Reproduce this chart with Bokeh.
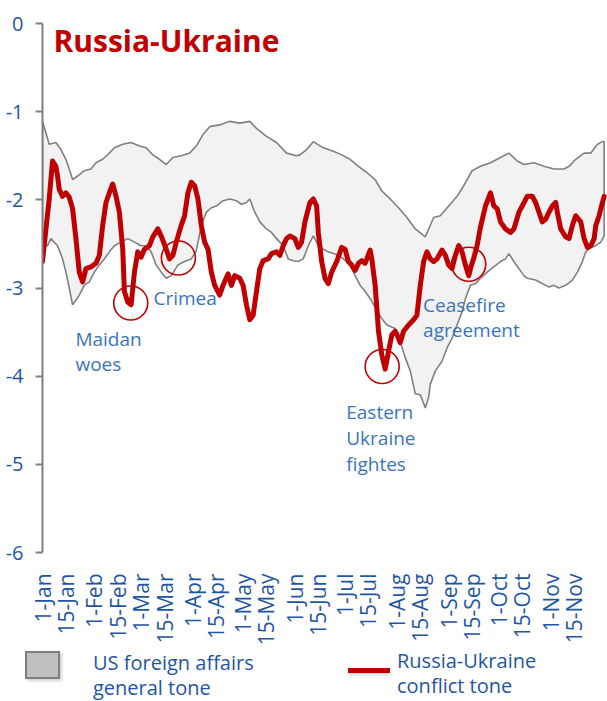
import math
from bokeh.plotting import figure
from bokeh.layouts import column
from bokeh.models import Range1d, FixedTicker, Label, Div
from bokeh.core.properties import value
from bokeh.embed import file_html
from bokeh.resources import INLINE

# ---- data (day of year 2014, 0 = 1 Jan) ----
tick_days = [0, 14, 31, 45, 59, 73, 90, 104, 120, 134, 151, 165, 181, 195,
             212, 226, 243, 257, 273, 287, 304, 318]
tick_labels = ["1-Jan", "15-Jan", "1-Feb", "15-Feb", "1-Mar", "15-Mar",
               "1-Apr", "15-Apr", "1-May", "15-May", "1-Jun", "15-Jun",
               "1-Jul", "15-Jul", "1-Aug", "15-Aug", "1-Sep", "15-Sep",
               "1-Oct", "15-Oct", "1-Nov", "15-Nov"]
y_ticks = [0, -1, -2, -3, -4, -5, -6]
y_tick_labels = ["0", "-1", "-2", "-3", "-4", "-5", "-6"]

red_day = [0, 1, 4, 6, 8, 9, 10, 12, 14, 16, 18, 20, 22, 24, 26, 29, 32, 34,
           36, 38, 40, 42, 44, 46, 48, 49, 51, 53, 55, 57, 59, 61, 64, 66, 69,
           71, 74, 76, 78, 80, 83, 85, 87, 89, 91, 93, 95, 97, 99, 101, 103,
           106, 108, 111, 113, 115, 118, 120, 122, 124, 126, 128, 130, 132,
           135, 137, 140, 142, 144, 146, 148, 151, 153, 155, 157, 160, 162,
           164, 165, 167, 169, 171, 173, 176, 179, 181, 183, 185, 187, 189,
           191, 193, 196, 197, 199, 201, 203, 205, 207, 209, 211, 213, 214,
           216, 219, 222, 224, 226, 228, 230, 232, 234, 236, 239, 241, 243,
           245, 247, 249, 251, 253, 255, 256, 258, 260, 262, 265, 268, 270,
           272, 274, 277, 280, 282, 285, 287, 290, 293, 295, 297, 299, 301,
           303, 305, 307, 308, 310, 313, 315, 317, 319, 322, 324, 326, 328,
           330, 331, 333, 334, 336]
red_val = [-2.70, -2.52, -1.99, -1.56, -1.62, -1.73, -1.88, -1.96, -1.92,
           -1.97, -2.10, -2.44, -2.82, -2.93, -2.78, -2.76, -2.72, -2.63,
           -2.29, -2.03, -1.92, -1.82, -1.96, -2.14, -2.56, -3.04, -3.16,
           -3.19, -2.82, -2.59, -2.65, -2.56, -2.52, -2.42, -2.33, -2.41,
           -2.56, -2.67, -2.63, -2.48, -2.29, -2.18, -1.92, -1.80, -1.84,
           -1.99, -2.29, -2.48, -2.56, -2.82, -2.97, -3.08, -2.97, -2.84,
           -2.97, -2.86, -2.89, -2.97, -3.19, -3.36, -3.31, -3.04, -2.78,
           -2.69, -2.67, -2.61, -2.59, -2.63, -2.52, -2.44, -2.41, -2.44,
           -2.54, -2.48, -2.25, -2.03, -1.99, -2.07, -2.37, -2.70, -2.89,
           -2.95, -2.82, -2.70, -2.54, -2.56, -2.70, -2.74, -2.80, -2.72,
           -2.69, -2.72, -2.57, -2.67, -2.97, -3.49, -3.76, -3.92, -3.72,
           -3.53, -3.49, -3.57, -3.62, -3.49, -3.42, -3.36, -3.31, -2.97,
           -2.70, -2.59, -2.67, -2.70, -2.67, -2.57, -2.63, -2.74, -2.78,
           -2.63, -2.52, -2.59, -2.74, -2.86, -2.78, -2.66, -2.52, -2.31,
           -2.07, -1.92, -2.07, -2.10, -2.25, -2.33, -2.37, -2.33, -2.14,
           -2.07, -1.96, -1.96, -2.03, -2.14, -2.25, -2.22, -2.14, -2.07,
           -2.03, -2.14, -2.33, -2.42, -2.44, -2.29, -2.18, -2.25, -2.44,
           -2.54, -2.52, -2.44, -2.29, -2.18, -2.10, -1.96]

upper_day = [0, 2, 4, 8, 11, 14, 16, 18, 21, 25, 29, 32, 36, 40, 43, 48, 53,
             58, 62, 66, 70, 74, 78, 83, 88, 92, 96, 100, 106, 112, 118, 124,
             128, 134, 140, 146, 152, 154, 158, 162, 168, 174, 179, 184, 189,
             194, 199, 203, 208, 213, 218, 223, 229, 234, 238, 243, 248, 252,
             257, 262, 268, 274, 279, 284, 288, 294, 300, 306, 312, 315, 319,
             324, 328, 332, 335, 336]
upper_val = [-1.11, -1.24, -1.37, -1.35, -1.43, -1.54, -1.65, -1.77, -1.73,
             -1.67, -1.65, -1.58, -1.54, -1.47, -1.41, -1.37, -1.35, -1.39,
             -1.41, -1.49, -1.54, -1.60, -1.52, -1.50, -1.47, -1.39, -1.26,
             -1.17, -1.15, -1.11, -1.13, -1.11, -1.19, -1.28, -1.35, -1.47,
             -1.50, -1.49, -1.43, -1.34, -1.41, -1.45, -1.49, -1.54, -1.62,
             -1.69, -1.77, -1.90, -1.99, -2.09, -2.20, -2.33, -2.42, -2.20,
             -2.18, -2.07, -1.96, -1.84, -1.67, -1.62, -1.58, -1.52, -1.47,
             -1.56, -1.60, -1.58, -1.62, -1.65, -1.65, -1.62, -1.54, -1.47,
             -1.47, -1.37, -1.34, -1.34]

lower_day = [0, 3, 5, 9, 12, 14, 16, 18, 20, 22, 25, 28, 31, 34, 37, 40, 43,
             47, 51, 55, 59, 62, 65, 68, 71, 74, 77, 81, 85, 89, 92, 95, 98,
             101, 104, 108, 112, 116, 119, 122, 124, 127, 130, 134, 137, 140,
             144, 147, 150, 153, 156, 159, 162, 165, 168, 171, 174, 177, 180,
             184, 187, 190, 193, 196, 200, 203, 206, 211, 214, 217, 220, 223,
             226, 229, 231, 232, 235, 239, 242, 245, 248, 251, 253, 256, 259,
             262, 266, 270, 274, 277, 279, 282, 285, 288, 290, 295, 299, 303,
             306, 309, 313, 317, 320, 323, 325, 328, 331, 334, 336]
lower_val = [-2.52, -2.52, -2.44, -2.52, -2.67, -2.82, -3.00, -3.19, -3.14,
             -3.08, -2.97, -2.93, -2.82, -2.74, -2.67, -2.59, -2.52, -2.48,
             -2.44, -2.48, -2.52, -2.52, -2.59, -2.74, -2.82, -2.89, -2.86,
             -2.74, -2.70, -2.67, -2.58, -2.29, -2.14, -2.09, -2.07, -2.01,
             -1.99, -2.01, -2.05, -2.03, -1.99, -2.14, -2.25, -2.33, -2.37,
             -2.44, -2.52, -2.67, -2.69, -2.70, -2.67, -2.52, -2.41, -2.52,
             -2.56, -2.59, -2.61, -2.63, -2.67, -2.74, -2.86, -2.97, -3.04,
             -3.12, -3.25, -3.35, -3.42, -3.46, -3.61, -3.79, -3.94, -4.20,
             -4.21, -4.36, -4.24, -4.09, -3.94, -3.83, -3.68, -3.57, -3.42,
             -3.27, -3.12, -2.97, -2.95, -2.89, -2.82, -2.76, -2.70, -2.67,
             -2.61, -2.70, -2.78, -2.86, -2.89, -2.91, -2.95, -2.99, -2.97,
             -3.00, -2.97, -2.91, -2.82, -2.70, -2.59, -2.54, -2.52, -2.48,
             -2.41]

event_day = [52.8, 81.3, 203.2, 255.0]
event_val = [-3.17, -2.66, -3.89, -2.73]

note_text = ["Maidan", "woes", "Crimea", "Eastern", "Ukraine", "fightes",
             "Ceasefire", "agreement"]
note_day = [19.7, 19.7, 66.4, 181.7, 181.7, 181.7, 227.7, 227.7]
note_val = [-3.58, -3.86, -3.11, -4.41, -4.70, -5.00, -3.19, -3.48]

title_text = "Russia-Ukraine"
legend_band = ["US foreign affairs", "general tone"]
legend_line = ["Russia-Ukraine", "conflict tone"]

RED = "#c00000"
BLUE = "#1f55a5"
NOTE_BLUE = "#3a74c0"
FONT = "Open Sans"
W = 607
LEFT = 42
H_MAIN = 648
H_LEG = 53

# ---------------- main chart ----------------
p = figure(width=W, height=H_MAIN, output_backend="svg", toolbar_location=None,
           x_range=Range1d(0, 338), y_range=Range1d(-6, 0),
           min_border_left=LEFT, min_border_right=0, min_border_top=23,
           min_border_bottom=92)
p.outline_line_color = None
p.grid.visible = False
p.background_fill_color = "white"
p.border_fill_color = "white"

band_x = upper_day + lower_day[::-1]
band_y = upper_val + lower_val[::-1]
p.patch(band_x, band_y, fill_color="#f2f2f2", line_color="#808080",
        line_width=1.6)
p.line(red_day, red_val, line_color=RED, line_width=5, line_join="round",
       line_cap="round")
p.scatter(event_day, event_val, marker="circle", size=34, fill_alpha=0,
          line_color=RED, line_width=1.6)
p.text(x=note_day, y=note_val, text=note_text, text_font=value(FONT),
       text_font_size="19px", text_color=NOTE_BLUE,
       text_baseline="alphabetic", text_align="left")

xa = p.xaxis[0]
xa.ticker = FixedTicker(ticks=tick_days)
xa.major_label_overrides = dict(zip(tick_days, tick_labels))
xa.major_label_orientation = math.pi / 2
xa.axis_line_color = None
xa.major_tick_line_color = None
xa.minor_tick_line_color = None
xa.major_label_standoff = 15
xa.major_label_text_font = FONT
xa.major_label_text_font_size = "21px"
xa.major_label_text_color = BLUE

ya = p.yaxis[0]
ya.ticker = FixedTicker(ticks=y_ticks)
ya.major_label_overrides = dict(zip(y_ticks, y_tick_labels))
ya.axis_line_color = "#808080"
ya.axis_line_width = 2
ya.major_tick_line_color = "#808080"
ya.major_tick_line_width = 2
ya.major_tick_out = 7
ya.major_tick_in = 0
ya.minor_tick_line_color = None
ya.major_label_standoff = 12
ya.major_label_text_font = FONT
ya.major_label_text_font_size = "20px"
ya.major_label_text_color = BLUE

p.add_layout(Label(x=11, y=512, x_units="screen", y_units="screen",
                   text=title_text, text_font=FONT, text_font_style="bold",
                   text_font_size="30px", text_color=RED,
                   text_baseline="alphabetic"))

# ---------------- legend strip (HTML) ----------------
legend_html = (
    f'<div style="position:relative;width:{W}px;height:{H_LEG}px;'
    f"font-family:'{FONT}';font-size:20px;line-height:25px;color:{BLUE};\">"
    '<div style="position:absolute;left:27px;top:5px;width:35px;height:28px;'
    'background:rgba(0,0,0,0.18);filter:blur(1.5px);"></div>'
    '<div style="position:absolute;left:25px;top:3px;width:35px;height:28px;'
    'box-sizing:border-box;background:#bfbfbf;border:2px solid #7f7f7f;">'
    '</div>'
    '<div style="position:absolute;left:93px;top:2px;white-space:nowrap;">'
    + "<br>".join(legend_band) + '</div>'
    '<div style="position:absolute;left:348px;top:22px;width:42px;height:5px;'
    'background:rgba(0,0,0,0.18);filter:blur(1.5px);"></div>'
    f'<div style="position:absolute;left:348px;top:20px;width:42px;'
    f'height:5px;background:{RED};"></div>'
    '<div style="position:absolute;left:397px;top:0px;white-space:nowrap;">'
    + "<br>".join(legend_line) + '</div>'
    '</div>'
)
lg = Div(text=legend_html, width=W, height=H_LEG, margin=0)

layout = column(p, lg, spacing=0)
open("out.html", "w").write(file_html(layout, INLINE))
